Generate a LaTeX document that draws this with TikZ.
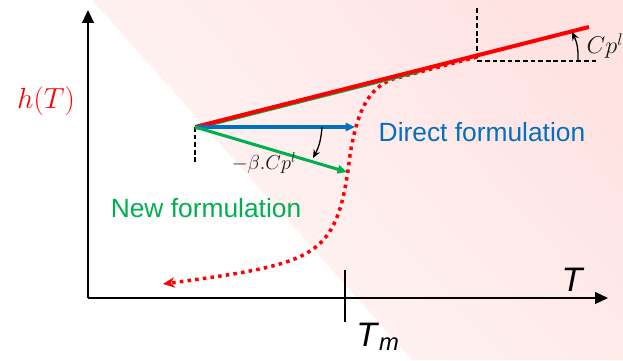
\documentclass[tikz,border=0pt]{standalone}
\usepackage{amsmath,amssymb}
\usepackage[no-math]{fontspec}
\setmainfont{Liberation Sans}
\usepackage{tikz}
\usetikzlibrary{arrows.meta}
\usepackage{xcolor}
\definecolor{hred}{RGB}{255,0,0}
\definecolor{hblue}{RGB}{0,112,192}
\definecolor{hgreen}{RGB}{0,176,80}
\definecolor{hgray}{RGB}{25,25,25}

\begin{document}
\begin{tikzpicture}[x=0.03cm,y=-0.03cm,
  axis/.style={line width=1.5pt,-{Triangle[length=11pt,width=10pt]}},
  guide/.style={line width=1.1pt,dashed,dash pattern=on 4pt off 2.5pt},
  vec/.style={line width=2.6pt,-{Triangle[length=8pt,width=7pt]}},
  turn/.style={line width=1.1pt,-{Stealth[length=7pt,width=6pt]}},
  lbl/.style={inner sep=0pt,font=\fontsize{22.5}{27}\selectfont},
  axlbl/.style={inner sep=0pt,font=\fontsize{29}{34}\selectfont}]
\useasboundingbox (0,0) rectangle (623,360);
\shade[top color=red!11,bottom color=red!3,shading angle=-48] (92,0) -- (623,0) -- (623,360) -- (412,360) -- cycle;

\coordinate (O) at (88,298);
\coordinate (ytop) at (88,10);
\coordinate (xend) at (608,298);
\draw[axis] (O) -- (ytop);
\draw[axis] (O) -- (xend);
\coordinate (tmtop) at (345,270);
\coordinate (tmbot) at (345,322);
\draw[line width=1.3pt] (tmtop) -- (tmbot);
\node[axlbl] (tlab) at (573,280) {\textit{T}};
\node[axlbl] (tmlab) at (378,337) {\textit{T}\textsubscript{\textit{m}}};
\node[inner sep=0pt,text=hred,font=\fontsize{27}{32}\selectfont] (hlab) at (46,101) {$h(T)$};

\coordinate (S) at (195,127);
\coordinate (E) at (589,27);
\coordinate (C) at (477,61);
\draw[guide] (477,8) -- (C) -- (598,61);
\draw[guide] (S) -- (290,127);
\draw[guide] (S) -- (195,165);

\coordinate (dstart) at (477,57);
\coordinate (dbend) at (393,79);
\coordinate (dmid) at (350,155);
\coordinate (dlow) at (310,251);
\coordinate (dend) at (163,284);
\draw[hred,line width=3pt,dash pattern=on 3pt off 3.6pt,-{Stealth[length=10pt,width=9pt]}]
  (dstart) -- (dbend) .. controls (368,88) and (357,112) .. (dmid)
  .. controls (344,205) and (336,235) .. (dlow)
  .. controls (285,268) and (230,275) .. (dend);

\draw[hgreen,line width=2.5pt] ([yshift=-1.3pt]S) -- ([yshift=-1.3pt]420,70);
\draw[hred,line width=3.4pt] (S) -- (E);
\draw[vec,hblue] (S) -- (355,127);
\draw[vec,hgreen] (S) -- (347,172);

\draw[turn] (322,127) to[bend left=12] (313,158);
\draw[turn] (578,61) to[bend right=14] (572,32);
\node[inner sep=0pt,text=hgray,font=\fontsize{18}{21}\selectfont] (beta) at (264,163) {$-\beta.Cp^l$};
\node[inner sep=0pt,text=hgray,font=\fontsize{20}{24}\selectfont] (cpl) at (605,46) {$Cp^l$};

\node[lbl,text=hblue] (direct) at (482,132) {Direct formulation};
\node[lbl,text=hgreen] (new) at (206,208) {New formulation};
\end{tikzpicture}
\end{document}
